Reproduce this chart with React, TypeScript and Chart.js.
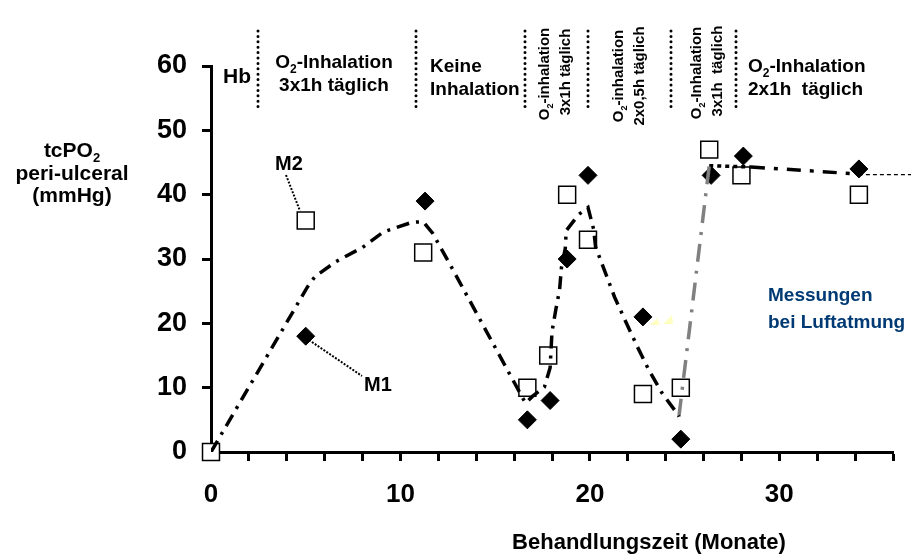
import React, { useEffect, useRef } from 'react';
import { Chart, registerables } from 'chart.js';

Chart.register(...registerables);

// ---- data ----
const m2Months = [0, 5, 11.2, 16.7, 17.8, 18.8, 19.9, 22.8, 24.8, 26.3, 28.0, 34.2];
const m2Values = [0, 36, 31, 10, 15, 40, 33, 9, 10, 47, 43, 40];

const m1Months = [5, 11.3, 16.7, 17.9, 18.8, 19.9, 22.8, 24.8, 26.4, 28.1, 34.2];
const m1Values = [18, 39, 5, 8, 30, 43, 21, 2, 43, 46, 44];

const trendMonths = [0, 5.1, 5.5, 6.6, 8.0, 9.1, 10.6, 11.2, 11.7, 12.7, 16.6, 16.95, 17.6, 17.9, 18.0, 18.2, 18.4, 18.5, 18.7, 18.75, 19.4, 19.9, 20.2, 20.3, 20.8, 21.3, 21.9, 22.5, 23.1, 23.8, 24.5, 24.7];
const trendValues = [0, 25.7, 27.3, 29.6, 31.8, 34.2, 35.7, 35.8, 34, 28.7, 7.6, 8.6, 10.1, 13.1, 18.7, 22.1, 25.2, 28.7, 31.6, 34.4, 36.9, 38, 34.6, 31.9, 28, 24.1, 20.2, 16.4, 12.8, 9.2, 6.4, 5.5];

const riseMonths = [24.7, 26.3];
const riseValues = [5.5, 44.5];

const plateauMonths = [26.3, 28.5, 34.2];
const plateauValues = [44.5, 44.3, 43.2];

const tailMonths = [34.2, 37];
const tailValues = [43.1, 43.1];

const xLabelled = [0, 10, 20, 30];
const phaseBoundaries = [2.5, 10.8, 16.6, 19.9, 24.3, 27.7];

const FONT = "'Liberation Sans', Arial, Helvetica, sans-serif";

const pts = (xs: number[], ys: number[]) => xs.map((x, i) => ({ x, y: ys[i] }));

type Part = { t: string; sub?: boolean };

function drawRich(ctx: CanvasRenderingContext2D, parts: Part[], x: number, y: number, size: number, align: 'left' | 'center' | 'right') {
  const main = `bold ${size}px ${FONT}`;
  const sub = `bold ${Math.round(size * 0.62)}px ${FONT}`;
  let w = 0;
  for (const p of parts) {
    ctx.font = p.sub ? sub : main;
    w += ctx.measureText(p.t).width;
  }
  let cx = align === 'center' ? x - w / 2 : align === 'right' ? x - w : x;
  ctx.textAlign = 'left';
  ctx.textBaseline = 'middle';
  for (const p of parts) {
    ctx.font = p.sub ? sub : main;
    ctx.fillText(p.t, cx, p.sub ? y + size * 0.34 : y);
    cx += ctx.measureText(p.t).width;
  }
}

function drawRotated(ctx: CanvasRenderingContext2D, parts: Part[], x: number, y: number, size: number) {
  ctx.save();
  ctx.translate(x, y);
  ctx.rotate(-Math.PI / 2);
  drawRich(ctx, parts, 0, 0, size, 'center');
  ctx.restore();
}

const annotationPlugin = {
  id: 'annotations',
  afterDraw(chart: any) {
    const ctx: CanvasRenderingContext2D = chart.ctx;
    const xs = chart.scales.x;
    ctx.save();
    ctx.fillStyle = '#000';

    // phase separators (dotted)
    ctx.strokeStyle = '#000';
    ctx.lineWidth = 3;
    ctx.lineCap = 'round';
    ctx.setLineDash([0, 5.4]);
    for (const b of phaseBoundaries) {
      const px = Math.round(xs.getPixelForValue(b));
      ctx.beginPath();
      ctx.moveTo(px, 31);
      ctx.lineTo(px, 112);
      ctx.stroke();
    }
    ctx.setLineDash([]);
    ctx.lineCap = 'butt';

    // phase labels
    drawRich(ctx, [{ t: 'Hb' }], 223, 77, 21, 'left');
    drawRich(ctx, [{ t: 'O' }, { t: '2', sub: true }, { t: '-Inhalation' }], 334, 63, 19, 'center');
    drawRich(ctx, [{ t: '3x1h täglich' }], 334, 86, 19, 'center');
    drawRich(ctx, [{ t: 'Keine' }], 430, 67, 19, 'left');
    drawRich(ctx, [{ t: 'Inhalation' }], 430, 90, 19, 'left');
    drawRotated(ctx, [{ t: 'O' }, { t: '2', sub: true }, { t: '-inhalation' }], 545, 74, 15);
    drawRotated(ctx, [{ t: '3x1h täglich' }], 566, 72, 15);
    drawRotated(ctx, [{ t: 'O' }, { t: '2', sub: true }, { t: '-inhalation' }], 619, 76, 15);
    drawRotated(ctx, [{ t: '2x0,5h täglich' }], 640, 76, 15);
    drawRotated(ctx, [{ t: 'O' }, { t: '2', sub: true }, { t: '-Inhalation' }], 697, 73, 15);
    drawRotated(ctx, [{ t: '3x1h  täglich' }], 718, 71, 15);
    drawRich(ctx, [{ t: 'O' }, { t: '2', sub: true }, { t: '-Inhalation' }], 748, 67, 19, 'left');
    drawRich(ctx, [{ t: '2x1h  täglich' }], 748, 90, 19, 'left');

    // y-axis title
    drawRich(ctx, [{ t: 'tcPO' }, { t: '2', sub: true }], 72, 151, 21, 'center');
    drawRich(ctx, [{ t: 'peri-ulceral' }], 72, 174, 21, 'center');
    drawRich(ctx, [{ t: '(mmHg)' }], 72, 196, 21, 'center');

    // x-axis title
    drawRich(ctx, [{ t: 'Behandlungszeit (Monate)' }], 649, 543, 22, 'center');

    // series labels with leaders
    drawRich(ctx, [{ t: 'M2' }], 289, 164, 20, 'center');
    drawRich(ctx, [{ t: 'M1' }], 378, 385, 20, 'center');
    ctx.lineWidth = 2;
    ctx.setLineDash([2, 1.5]);
    ctx.beginPath();
    ctx.moveTo(286, 175);
    ctx.lineTo(300, 211);
    ctx.moveTo(309, 340);
    ctx.lineTo(362, 376);
    ctx.stroke();
    ctx.setLineDash([]);

    // note
    ctx.fillStyle = '#003a75';
    drawRich(ctx, [{ t: 'Messungen' }], 768, 296, 19, 'left');
    drawRich(ctx, [{ t: 'bei Luftatmung' }], 768, 323, 19, 'left');

    // faint yellow marks
    ctx.fillStyle = '#ffffc4';
    ctx.beginPath();
    ctx.moveTo(650, 325); ctx.lineTo(657, 318); ctx.lineTo(660, 325); ctx.closePath();
    ctx.moveTo(663, 324); ctx.lineTo(672, 315); ctx.lineTo(673, 324); ctx.closePath();
    ctx.fill();

    ctx.restore();
  },
};

export default function App() {
  const ref = useRef<HTMLCanvasElement>(null);
  useEffect(() => {
    if (!ref.current) return;
    const chart = new Chart(ref.current, {
      type: 'scatter',
      data: {
        datasets: [
          {
            label: 'trend',
            data: pts(trendMonths, trendValues),
            showLine: true,
            borderColor: '#000',
            borderWidth: 3.5,
            borderDash: [13, 7, 3, 7],
            pointRadius: 0,
            tension: 0,
            order: 0,
          },
          {
            label: 'rise',
            data: pts(riseMonths, riseValues),
            showLine: true,
            borderColor: '#808080',
            borderWidth: 3.5,
            borderDash: [18, 9, 3, 9],
            pointRadius: 0,
            tension: 0,
            order: 0,
          },
          {
            label: 'plateau',
            data: pts(plateauMonths, plateauValues),
            showLine: true,
            borderColor: '#000',
            borderWidth: 3.5,
            pointRadius: 0,
            tension: 0,
            segment: {
              borderDash: (c: any) => (c.p0DataIndex === 0 ? [4, 4] : [14, 9, 4, 9]),
            },
            order: 0,
          },
          {
            label: 'tail',
            data: pts(tailMonths, tailValues),
            showLine: true,
            borderColor: '#000',
            borderWidth: 1.2,
            borderDash: [4, 3],
            pointRadius: 0,
            tension: 0,
            clip: false,
            order: 0,
          },
          {
            label: 'M2',
            data: pts(m2Months, m2Values),
            showLine: false,
            pointStyle: 'rect',
            pointRadius: 12,
            pointBackgroundColor: '#fff',
            pointBorderColor: '#000',
            pointBorderWidth: 1.5,
            clip: false,
            order: 1,
          },
          {
            label: 'M1',
            data: pts(m1Months, m1Values),
            showLine: false,
            pointStyle: 'rectRot',
            pointRadius: 9,
            pointBackgroundColor: '#000',
            pointBorderColor: '#000',
            pointBorderWidth: 1,
            clip: false,
            order: 2,
          },
        ] as any,
      },
      options: {
        responsive: false,
        animation: false,
        events: [],
        layout: { padding: { top: 66, right: 16, left: 0, bottom: 0 } },
        plugins: { legend: { display: false }, tooltip: { enabled: false }, title: { display: false } },
        scales: {
          x: {
            type: 'linear',
            min: 0,
            max: 36,
            afterFit: (s: any) => {
              s.height = 106;
            },
            border: { display: true, color: '#000', width: 3 },
            grid: { display: true, drawOnChartArea: false, drawTicks: true, tickLength: 9, tickWidth: 3, tickColor: '#000', color: '#000' },
            ticks: {
              stepSize: 2,
              autoSkip: false,
              maxRotation: 0,
              padding: 18,
              color: '#000',
              font: { family: FONT, size: 26, weight: 'bold' },
              callback: (v: any) => (xLabelled.includes(Number(v)) ? String(v) : ''),
            },
          },
          y: {
            type: 'linear',
            min: 0,
            max: 60,
            afterFit: (s: any) => {
              s.width = 211;
            },
            border: { display: true, color: '#000', width: 3 },
            grid: { display: true, drawOnChartArea: false, drawTicks: true, tickLength: 9, tickWidth: 3, tickColor: '#000', color: '#000' },
            ticks: {
              stepSize: 10,
              padding: 15,
              color: '#000',
              font: { family: FONT, size: 27, weight: 'bold' },
            },
          },
        },
      } as any,
      plugins: [annotationPlugin],
    });
    return () => chart.destroy();
  }, []);
  return (
    <div style={{ position: 'absolute', left: 0, top: 0, width: 911, height: 558, background: '#fff' }}>
      <canvas ref={ref} width={911} height={558} style={{ display: 'block' }} />
    </div>
  );
}
